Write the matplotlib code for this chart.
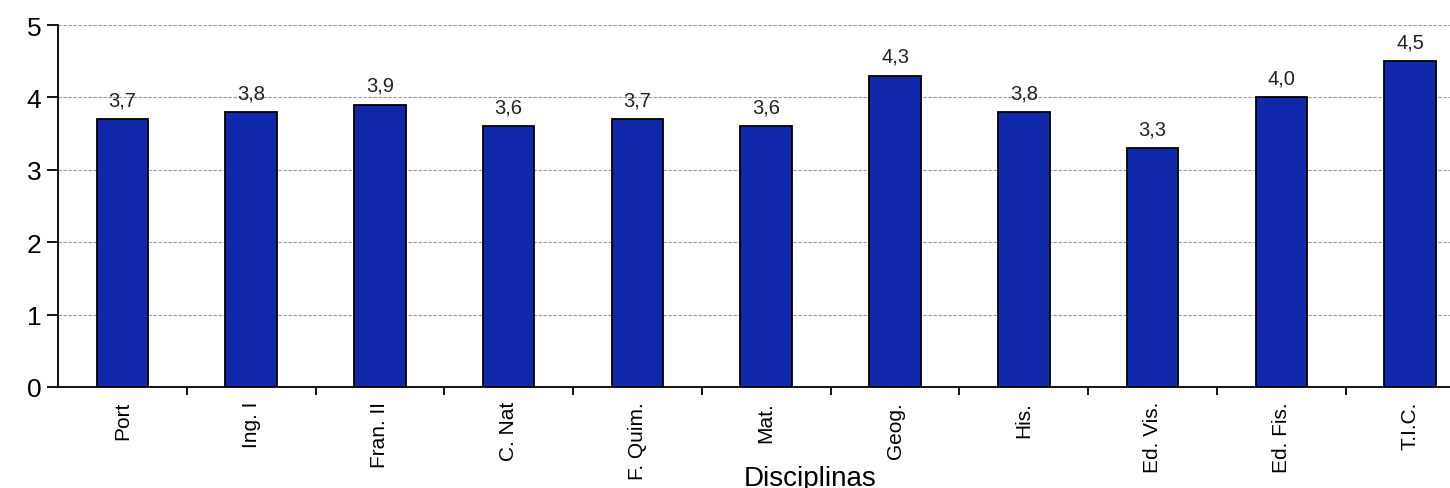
import numpy as np
import matplotlib
matplotlib.use('Agg')
import matplotlib.pyplot as plt

# data
disciplinas = ['Port', 'Ing. I', 'Fran. II', 'C. Nat', 'F. Quim.', 'Mat.',
               'Geog.', 'His.', 'Ed. Vis.', 'Ed. Fis.', 'T.I.C.']
medias = [3.7, 3.8, 3.9, 3.6, 3.7, 3.6, 4.3, 3.8, 3.3, 4.0, 4.5]

plt.rcParams['font.family'] = ['Liberation Sans', 'DejaVu Sans']

fig = plt.figure(figsize=(14.5, 4.89), dpi=100)
ax = fig.add_axes([58/1450, 101/489, 1 - 58/1450, 362/489])

x = np.arange(len(disciplinas))
ax.bar(x, medias, width=0.4, color='#1029aa', edgecolor='black', linewidth=1.3, zorder=3)

for xi, v in zip(x, medias):
    ax.annotate(('%.1f' % v).replace('.', ','), (xi, v), textcoords='offset points',
                xytext=(0, 7), ha='center', va='bottom', fontsize=14.5, color='#222222')

ax.set_ylim(0, 5)
ax.set_xlim(-0.5, 10.31)
ax.set_yticks(range(6))
ax.yaxis.grid(True, color='#999999', linestyle=(0, (3, 1.5)), linewidth=0.8, zorder=0)

# category labels centred, ticks on the boundaries
ax.set_xticks(x)
ax.set_xticklabels(disciplinas, rotation=90, fontsize=15)
ax.tick_params(axis='x', which='major', length=0, pad=10)
ax.set_xticks(np.arange(0.5, 10.5, 1), minor=True)
ax.tick_params(axis='x', which='minor', length=6, width=1.3, direction='out')
ax.tick_params(axis='y', labelsize=19, length=8, width=1.3, pad=4)

ax.spines['top'].set_visible(False)
ax.spines['right'].set_visible(False)
ax.spines['left'].set_linewidth(1.3)
ax.spines['bottom'].set_linewidth(1.3)

ax.set_xlabel('Disciplinas', fontsize=20)
ax.xaxis.set_label_coords(0.54, -0.215)

plt.savefig('out.png', dpi=100)
